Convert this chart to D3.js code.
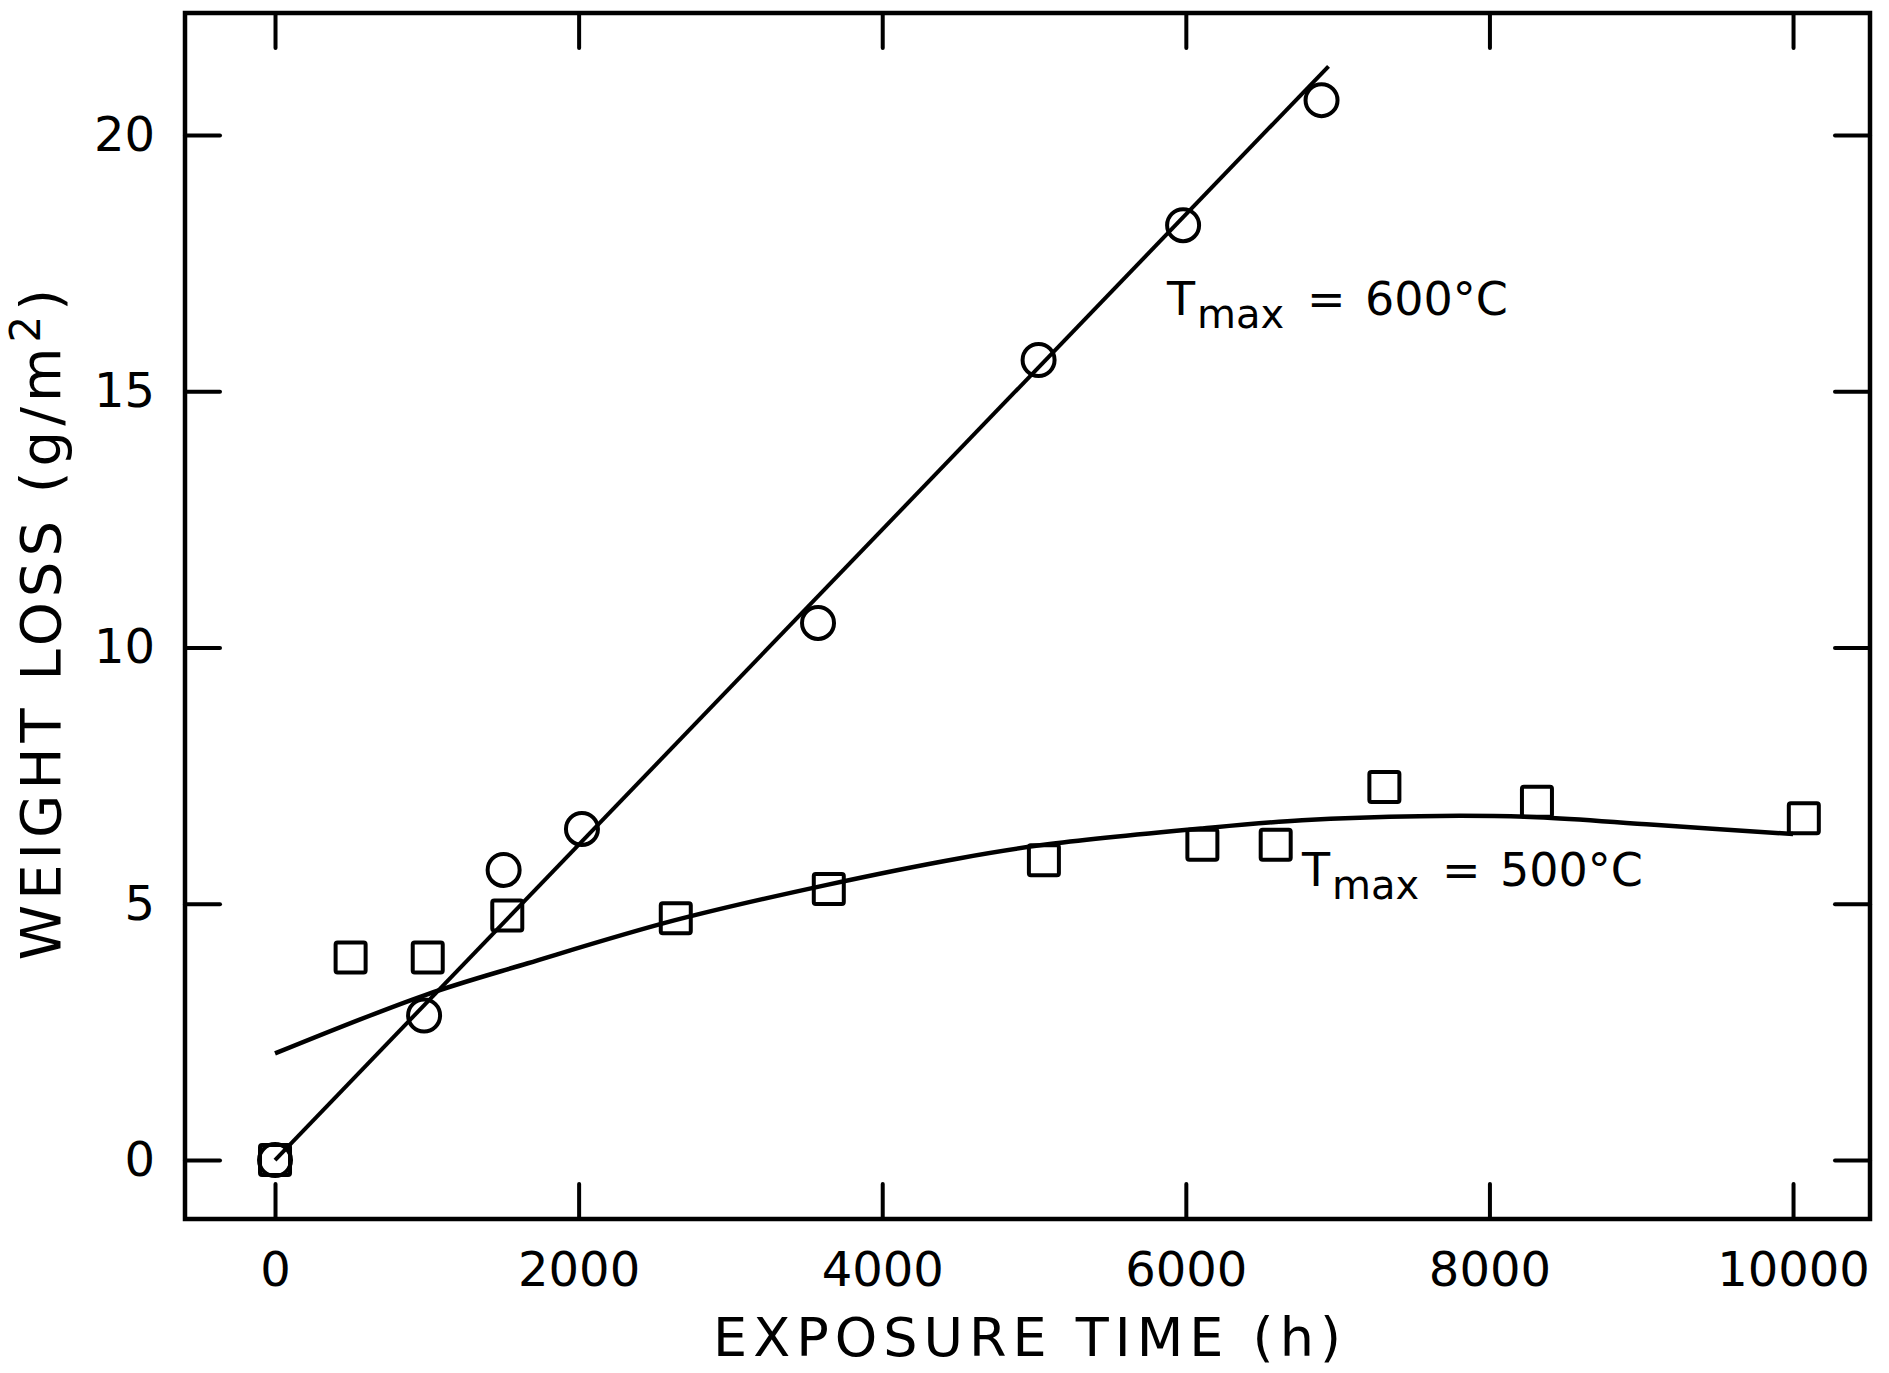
<!DOCTYPE html>
<html>
<head>
<meta charset="utf-8">
<script src="https://d3js.org/d3.v7.min.js"></script>
<style>
    body { margin: 0; background: #fff; }
    .chart text { font-family: "DejaVu Sans", sans-serif; fill: #000; }
</style>
</head>
<body>
<div class="chart"></div>
<script>

// exposure time (h) and weight loss (g/m2)
var hot_time = [0, 982, 1506, 2022, 3577, 5030, 5982, 6894];
var hot_loss = [0, 2.82, 5.66, 6.46, 10.48, 15.61, 18.24, 20.68];

var warm_time = [0, 498, 1006, 1530, 2640, 3648, 5065, 6109, 6592, 7308, 8313, 10071];
var warm_loss = [0, 3.95, 3.95, 4.77, 4.72, 5.29, 5.85, 6.15, 6.15, 7.28, 6.99, 6.67];

// fitted lines as drawn
var hot_fit_time = [0, 6940];
var hot_fit_loss = [0, 21.34];
var warm_fit_time = [0, 989, 1666, 2636, 3636, 4512, 5065, 6109, 6765, 7540, 8313, 9084, 10000];
var warm_fit_loss = [2.08, 3.22, 3.84, 4.68, 5.37, 5.89, 6.15, 6.47, 6.63, 6.71, 6.69, 6.54, 6.36];

var x_ticks = [0, 2000, 4000, 6000, 8000, 10000];
var y_ticks = [0, 5, 10, 15, 20];

function drawChart() {

    var margin = { top: 13, right: 19, bottom: 154, left: 185 },
        width = 1889 - margin.left - margin.right,
        height = 1373 - margin.top - margin.bottom;

    var svg = d3.select(".chart").append("svg")
        .attr("width", width + margin.left + margin.right)
        .attr("height", height + margin.top + margin.bottom);

    var g = svg.append("g")
        .attr("transform", "translate(" + margin.left + "," + margin.top + ")");

    var x = d3.scaleLinear().domain([-593, 10507]).range([0, width]);
    var y = d3.scaleLinear().domain([-1.15, 22.38]).range([height, 0]);

    var tickLen = 35;

    // bottom + left axes carry the labels, top + right only inward ticks
    var xb = g.append("g")
        .attr("class", "x axis")
        .attr("transform", "translate(0," + height + ")")
        .call(d3.axisBottom(x).tickValues(x_ticks).tickFormat(d3.format("d"))
            .tickSizeInner(-tickLen).tickSizeOuter(0).tickPadding(33));

    var xt = g.append("g")
        .call(d3.axisTop(x).tickValues(x_ticks).tickSizeInner(-tickLen).tickSizeOuter(0).tickFormat(""));

    var yl = g.append("g")
        .attr("class", "y axis")
        .call(d3.axisLeft(y).tickValues(y_ticks).tickSizeInner(-tickLen).tickSizeOuter(0).tickPadding(30));

    var yr = g.append("g")
        .attr("transform", "translate(" + width + ",0)")
        .call(d3.axisRight(y).tickValues(y_ticks).tickSizeInner(-tickLen).tickSizeOuter(0).tickFormat(""));

    [xb, xt, yl, yr].forEach(function (a) {
        a.select(".domain").remove();
        a.selectAll(".tick line").attr("stroke", "#000").attr("stroke-width", 4).attr("stroke-linecap", "round");
        a.selectAll(".tick text").style("font-size", "48px").attr("font-family", null);
    });
    xb.selectAll(".tick text").attr("dy", "0.71em");

    g.append("rect")
        .attr("x", 0).attr("y", 0)
        .attr("width", width).attr("height", height)
        .attr("fill", "none")
        .attr("stroke", "#000")
        .attr("stroke-width", 4.5);

    var line = d3.line()
        .x(function (d) { return x(d[0]); })
        .y(function (d) { return y(d[1]); });

    g.append("path")
        .datum(d3.zip(hot_fit_time, hot_fit_loss))
        .attr("d", line)
        .attr("fill", "none")
        .attr("stroke", "#000")
        .attr("stroke-width", 4);

    g.append("path")
        .datum(d3.zip(warm_fit_time, warm_fit_loss))
        .attr("d", line.curve(d3.curveCatmullRom))
        .attr("fill", "none")
        .attr("stroke", "#000")
        .attr("stroke-width", 4.5);

    g.selectAll(".sq")
        .data(d3.zip(warm_time, warm_loss))
        .enter().append("rect")
        .attr("class", "sq")
        .attr("x", function (d) { return x(d[0]) - 15; })
        .attr("y", function (d) { return y(d[1]) - 15; })
        .attr("width", 30)
        .attr("height", 30)
        .attr("rx", 2)
        .attr("fill", "none")
        .attr("stroke", "#000")
        .attr("stroke-width", 4);

    g.selectAll(".dot")
        .data(d3.zip(hot_time, hot_loss))
        .enter().append("circle")
        .attr("class", "dot")
        .attr("cx", function (d) { return x(d[0]); })
        .attr("cy", function (d) { return y(d[1]); })
        .attr("r", 16)
        .attr("fill", "none")
        .attr("stroke", "#000")
        .attr("stroke-width", 4);

    // curve labels
    function tmaxLabel(px, py, value) {
        var t = svg.append("text")
            .attr("y", py)
            .style("font-size", "46px");
        t.append("tspan").attr("x", px).text("T");
        t.append("tspan").attr("x", px + 30).attr("dy", 13).style("font-size", "40px").text("max");
        t.append("tspan").attr("x", px + 140).attr("dy", -13).text("=");
        t.append("tspan").attr("x", px + 198).text(value + "°C");
    }
    tmaxLabel(1167, 315, 600);
    tmaxLabel(1302, 886, 500);

    // axis titles
    svg.append("text")
        .attr("x", 1030)
        .attr("y", 1356)
        .attr("text-anchor", "middle")
        .style("font-size", "54px")
        .style("letter-spacing", "6px")
        .text("EXPOSURE TIME (h)");

    var yt = svg.append("text")
        .attr("transform", "translate(60,622) rotate(-90)")
        .attr("text-anchor", "middle")
        .style("font-size", "56px")
        .style("letter-spacing", "5px");
    yt.append("tspan").text("WEIGHT LOSS (g/m");
    yt.append("tspan").attr("dy", -20).style("font-size", "42px").text("2");
    yt.append("tspan").attr("dy", 20).text(")");
}

drawChart();
</script>
</body>
</html>
